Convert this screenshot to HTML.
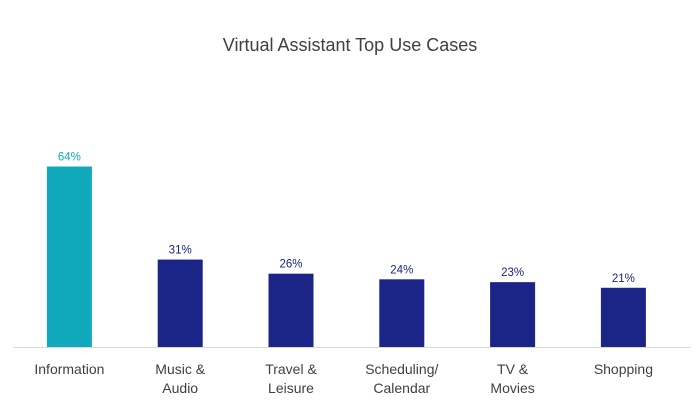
<!DOCTYPE html>
<html><head><meta charset="utf-8"><style>
body{margin:0;background:#fff;}
svg{display:block;font-family:"Liberation Sans",sans-serif;}
</style></head><body>
<svg id="chart" width="700" height="407" viewBox="0 0 700 407">
<text x="350" y="51" text-anchor="middle" font-size="18" fill="#404040">Virtual Assistant Top Use Cases</text>
<line x1="14" y1="347.5" x2="690" y2="347.5" stroke="#d9d9d9" stroke-width="1"/>
<g id="bars"></g>
</svg>
<script>
const categories=[["Information"],["Music &","Audio"],["Travel &","Leisure"],["Scheduling/","Calendar"],["TV &","Movies"],["Shopping"]];
const values=[64,31,26,24,23,21];
const valueLabels=["64%","31%","26%","24%","23%","21%"];
const ns="http://www.w3.org/2000/svg";
const g=document.getElementById('bars');
const x0=14,step=110.8,bw=45,base=347,scale=2.82;
function xc(i){return x0+step*(i+0.5);}
function yv(v){return base-v*scale;}
values.forEach((v,i)=>{
  const col=i===0?"#0fa9bb":"#1a2587";
  const r=document.createElementNS(ns,'rect');
  
  
  r.setAttribute('x',xc(i)-bw/2);r.setAttribute('y',yv(v));
  r.setAttribute('width',bw);r.setAttribute('height',base-yv(v));r.setAttribute('fill',col);
  g.appendChild(r);
  const t=document.createElementNS(ns,'text');
  
  
  t.setAttribute('x',xc(i));t.setAttribute('y',yv(v)-6);t.setAttribute('text-anchor','middle');
  t.setAttribute('font-size','11.5');t.setAttribute('fill',col);t.textContent=valueLabels[i];
  g.appendChild(t);
  categories[i].forEach((ln,j)=>{
    const c=document.createElementNS(ns,'text');
    
    
    c.setAttribute('x',xc(i));c.setAttribute('y',374+j*19);c.setAttribute('text-anchor','middle');
    c.setAttribute('font-size','14');c.setAttribute('fill','#404040');c.textContent=ln;
    g.appendChild(c);
  });
});
</script>
</body></html>
